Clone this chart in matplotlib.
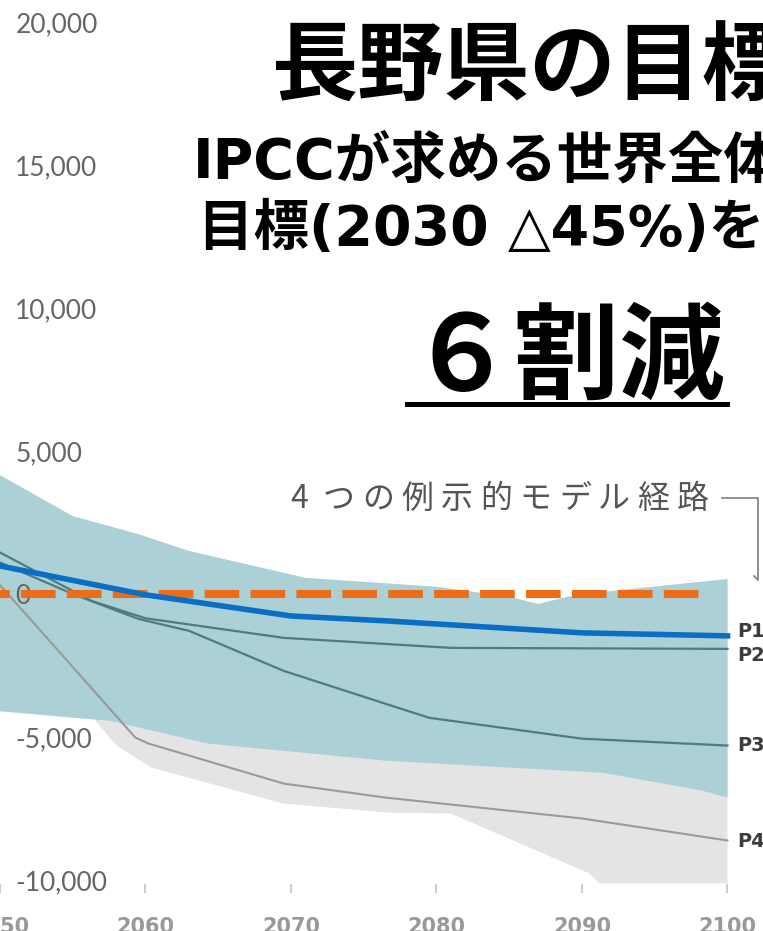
import numpy as np
import matplotlib.pyplot as plt
from matplotlib.lines import Line2D

plt.rcParams['font.family'] = ['Noto Sans CJK JP', 'DejaVu Sans']

# ---- data ----
x_ticks = [2050, 2060, 2070, 2080, 2090, 2100]
y_ticks = [-10000, -5000, 0, 5000, 10000, 15000, 20000]

# teal range
teal_up_years = [2050, 2055, 2059.5, 2063, 2071, 2080, 2085, 2087, 2089, 2092, 2100]
teal_up_vals = [4150, 2720, 2090, 1500, 560, 250, -100, -350, -100, 100, 520]
teal_lo_years = [2050, 2057.5, 2064.3, 2076.5, 2091.4, 2098.2, 2100]
teal_lo_vals = [-4100, -4430, -5230, -5830, -6250, -6870, -7120]

# grey full range
grey_lo_years = [2050, 2056.5, 2058, 2060.4, 2069.5, 2076.5, 2081, 2090.5, 2091.2, 2100]
grey_lo_vals = [-4100, -4400, -5300, -6070, -7330, -7640, -7680, -9770, -10120, -10120]

# illustrative pathways
p1_years = [2050, 2060, 2070, 2076.5, 2090, 2100]
p1_vals = [980, -30, -770, -940, -1360, -1465]
p2_years = [2050, 2056.3, 2060, 2069.5, 2081, 2100]
p2_vals = [1450, -244, -850, -1535, -1885, -1920]
p3_years = [2050, 2055, 2059.5, 2063, 2069.5, 2076.5, 2079.5, 2090, 2100]
p3_vals = [1100, 0, -870, -1290, -2690, -3840, -4330, -5060, -5300]
p4_years = [2050, 2051.4, 2059.3, 2060.2, 2069.5, 2076.5, 2090, 2100]
p4_vals = [310, -490, -5020, -5230, -6630, -7120, -7850, -8620]
path_names = ['P1', 'P2', 'P3', 'P4']

target_years = [2050, 2098.7]
target_vals = [0, 0]

fig = plt.figure(figsize=(7.63, 9.31), dpi=100)
ax = fig.add_axes([0, 0, 1, 1])
ax.set_xlim(2050.712, 2102.44)
ax.set_ylim(-11785, 20769)
for s in ax.spines.values():
    s.set_visible(False)

# bands: grey behind, teal on top
ax.fill(np.concatenate([teal_up_years, grey_lo_years[::-1]]),
        np.concatenate([teal_up_vals, grey_lo_vals[::-1]]),
        color='#e4e4e4', lw=0, zorder=1)
ax.fill(np.concatenate([teal_up_years, teal_lo_years[::-1]]),
        np.concatenate([teal_up_vals, teal_lo_vals[::-1]]),
        color='#abd0d5', lw=0, zorder=1.2)

ax.plot(p4_years, p4_vals, color='#9a9a9a', lw=1.5, zorder=2)
ax.plot(p3_years, p3_vals, color='#4f7c81', lw=1.6, zorder=2)
ax.plot(p2_years, p2_vals, color='#4f7c81', lw=1.6, zorder=2)
ax.plot(target_years, target_vals, color='#ec6c17', lw=5.8,
        ls=(3.1, (4.3, 1.4)), solid_capstyle='butt', dash_capstyle='butt', zorder=3)
ax.plot(p1_years, p1_vals, color='#0a6fc4', lw=4, zorder=4)

# path labels at the right end
ends = [p1_vals[-1], p2_vals[-1], p3_vals[-1], p4_vals[-1]]
dys = [3, -5, 0, -1]
for name, v, dy in zip(path_names, ends, dys):
    ax.annotate(name, xy=(2100, v), xytext=(7, dy), textcoords='offset points',
                va='center', ha='left', fontsize=14, weight='bold',
                color='#3c3c3c', family='DejaVu Sans')

# axis ticks drawn inside the picture
ax.set_yticks(y_ticks, labels=[f"{v:,}" for v in y_ticks])
ax.tick_params(axis='y', length=0, pad=-11, labelsize=19, labelcolor='#666666')
for lab in ax.get_yticklabels():
    lab.set_horizontalalignment('left')
    lab.set_fontfamily('Lato')
ax.set_xticks(x_ticks, labels=[str(v) for v in x_ticks])
ax.tick_params(axis='x', length=0, pad=-10, labelsize=15, labelcolor='#999999')
for lab in ax.get_xticklabels():
    lab.set_fontfamily('DejaVu Sans')
    lab.set_fontweight('bold')
ax.vlines(x_ticks, 0.041, 0.051, transform=ax.get_xaxis_transform(),
          color='#cccccc', lw=1.5)

# annotation with bracket
W, H = 763, 931
label = "4つの例示的モデル経路"
for i, ch in enumerate(label):
    fig.text((299 + i * 39.4) / W, 1 - 499 / H, ch, fontsize=23, color='#555555',
             ha='center', va='center')
fig.add_artist(Line2D(np.array([722, 758, 758, 754]) / W,
                      1 - np.array([498, 498, 580, 576]) / H,
                      color='#888888', lw=1.3))

# overlay texts
fig.text(272 / W, 1 - 69 / H, "長野県の目標", fontsize=62, weight='bold',
         ha='left', va='center', color='black')
fig.text(193 / W, 1 - 162 / H, "IPCCが求める世界全体の", fontsize=40, weight='bold',
         ha='left', va='center', color='black', family=['DejaVu Sans', 'Noto Sans CJK JP'])
fig.text(198 / W, 1 - 230 / H, "目標(2030 △45%)を", fontsize=40, weight='bold',
         ha='left', va='center', color='black', family=['DejaVu Sans', 'Noto Sans CJK JP'])
fig.text(408 / W, 1 - 360 / H, "６割減", fontsize=76, weight='bold',
         ha='left', va='center', color='black')
fig.add_artist(Line2D([407 / W, 727 / W], [1 - 404 / H, 1 - 404 / H], color='black', lw=3.6))

fig.savefig('out.png', dpi=100)
